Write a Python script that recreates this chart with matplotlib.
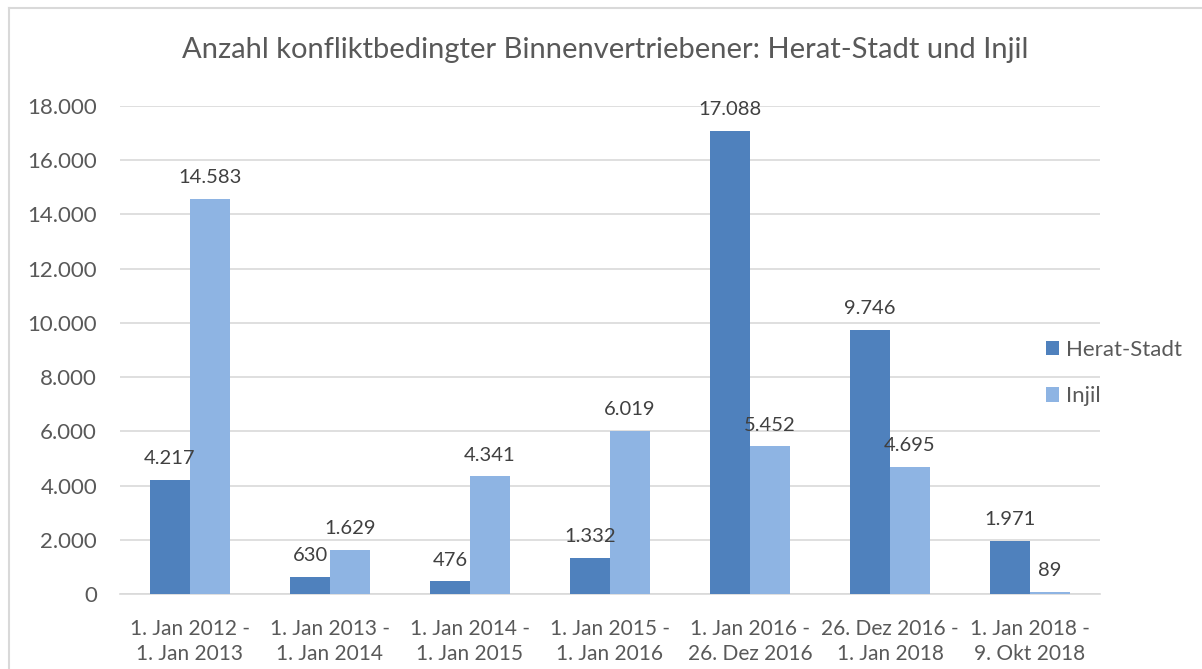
import numpy as np
import matplotlib.pyplot as plt
from matplotlib.lines import Line2D

plt.rcParams['font.family'] = ['Lato', 'DejaVu Sans']

# Data
categories = ['1. Jan 2012 -\n1. Jan 2013', '1. Jan 2013 -\n1. Jan 2014',
              '1. Jan 2014 -\n1. Jan 2015', '1. Jan 2015 -\n1. Jan 2016',
              '1. Jan 2016 -\n26. Dez 2016', '26. Dez 2016 -\n1. Jan 2018',
              '1. Jan 2018 -\n9. Okt 2018']
herat = [4217, 630, 476, 1332, 17088, 9746, 1971]
injil = [14583, 1629, 4341, 6019, 5452, 4695, 89]
series_names = ['Herat-Stadt', 'Injil']
yticks = [0, 2000, 4000, 6000, 8000, 10000, 12000, 14000, 16000, 18000]

dark = '#4F81BD'
light = '#8EB4E3'
txt = '#595959'
grid = '#D9D9D9'

def de(v):
    return f'{v:,}'.replace(',', '.')

fig = plt.figure(figsize=(12.02, 6.69), dpi=100)
ax = fig.add_axes([120/1202, 1 - 594/669, 980/1202, 488/669])

x = np.arange(len(categories))
w = 40/140
b1 = ax.bar(x - w/2, herat, w, color=dark, label=series_names[0], zorder=3)
b2 = ax.bar(x + w/2, injil, w, color=light, label=series_names[1], zorder=3)

for bars, vals in ((b1, herat), (b2, injil)):
    for r, v in zip(bars, vals):
        ax.annotate(de(v), (r.get_x() + r.get_width()/2, r.get_height()),
                    xytext=(0, 9), textcoords='offset points',
                    ha='center', va='bottom', fontsize=14.5, color='#404040')

ax.set_xlim(-0.5, len(categories) - 0.5)
ax.set_ylim(0, 18000)
ax.set_yticks(yticks)
ax.set_yticklabels([de(v) for v in yticks])
ax.set_xticks(x)
ax.set_xticklabels(categories, linespacing=1.3)
ax.tick_params(axis='both', length=0, labelsize=15, colors=txt)
ax.tick_params(axis='y', labelsize=16, pad=16.5)
ax.tick_params(axis='x', pad=18)
ax.grid(axis='y', color=grid, linewidth=1.2, zorder=0)
for s in ['left', 'right', 'top']:
    ax.spines[s].set_visible(False)
ax.spines['bottom'].set_color(grid)
ax.spines['bottom'].set_linewidth(1.2)

fig.text(605/1202, 1 - 50/669, 'Anzahl konfliktbedingter Binnenvertriebener: Herat-Stadt und Injil',
         ha='center', va='center', fontsize=21, color=txt)

fig.legend(handles=[b1, b2], labels=series_names, loc='center left',
           bbox_to_anchor=(1026/1202, 1 - 373/669), frameon=False,
           fontsize=16, labelcolor=txt, handlelength=0.6, handleheight=0.6,
           handletextpad=0.3, labelspacing=1.2)

# chart border (left and top visible)
fig.add_artist(Line2D([9/1202, 9/1202], [0, 1 - 8/669], color=grid, lw=1.5))
fig.add_artist(Line2D([9/1202, 1], [1 - 8/669, 1 - 8/669], color=grid, lw=1.5))

fig.savefig('out.png', dpi=100)
